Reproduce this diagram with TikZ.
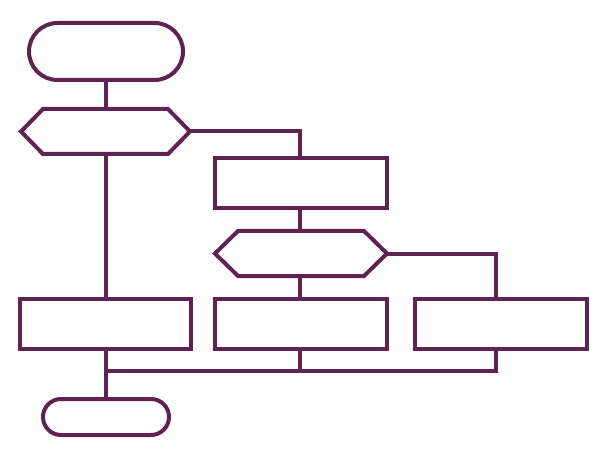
\documentclass[tikz,border=0pt]{standalone}
\usetikzlibrary{shapes.misc,calc}
\definecolor{plum}{RGB}{94,35,83}
\begin{document}
\begin{tikzpicture}[x=1pt,y=-1pt,
  boxnode/.style={rectangle,draw=plum,line width=4pt,inner sep=0pt,outer sep=0pt,minimum width=#1,minimum height=50pt},
  termnode/.style={rounded rectangle,draw=plum,line width=4pt,inner sep=0pt,outer sep=0pt},
  hexanchor/.style={rectangle,inner sep=0pt,outer sep=0pt,minimum width=#1,minimum height=45pt},
  link/.style={line width=4pt,draw=plum}]
\useasboundingbox[draw=none] (0,0) rectangle (605,457);
\node[termnode,minimum width=154pt,minimum height=57pt] (t1) at (106,51.5) {};
\node[hexanchor=169pt] (h1) at (105.5,131.5) {};
\node[boxnode=172pt] (b2) at (300.5,183) {};
\node[hexanchor=172pt] (h2) at (301,253.5) {};
\node[boxnode=171pt] (ba) at (105.5,324) {};
\node[boxnode=172pt] (bb) at (301,324) {};
\node[boxnode=172pt] (bc) at (500.5,324) {};
\node[termnode,minimum width=126pt,minimum height=36pt] (t2) at (106,417) {};
\coordinate (jl) at (105.5,371);
\coordinate (bcin) at (495.5,299);
\coordinate (bcout) at (495.5,349);
\coordinate (b2in) at (300,158);
\coordinate (bbmid) at (300,349);
% hexagons
\draw[link] (h1.west) -- ([xshift=22pt]h1.north west) -- ([xshift=-22pt]h1.north east) -- (h1.east) -- ([xshift=-22pt]h1.south east) -- ([xshift=22pt]h1.south west) -- cycle;
\draw[link] (h2.west) -- ([xshift=23pt]h2.north west) -- ([xshift=-23pt]h2.north east) -- (h2.east) -- ([xshift=-23pt]h2.south east) -- ([xshift=23pt]h2.south west) -- cycle;
% connectors
\draw[link] (t1.south) -- (t1.south |- h1.north);
\draw[link] (h1.south) -- (h1.south |- ba.north);
\draw[link] (h1.east) -| (b2in);
\draw[link] (b2in |- b2.south) -- (b2in |- h2.north);
\draw[link] (b2in |- h2.south) -- (b2in |- bb.north);
\draw[link] (h2.east) -| (bcin);
\draw[link] (ba.south) -- (ba.south |- t2.north);
\draw[link] (bbmid) -- (bbmid |- jl);
\draw[link] (bcout) |- (jl);
\end{tikzpicture}
\end{document}
